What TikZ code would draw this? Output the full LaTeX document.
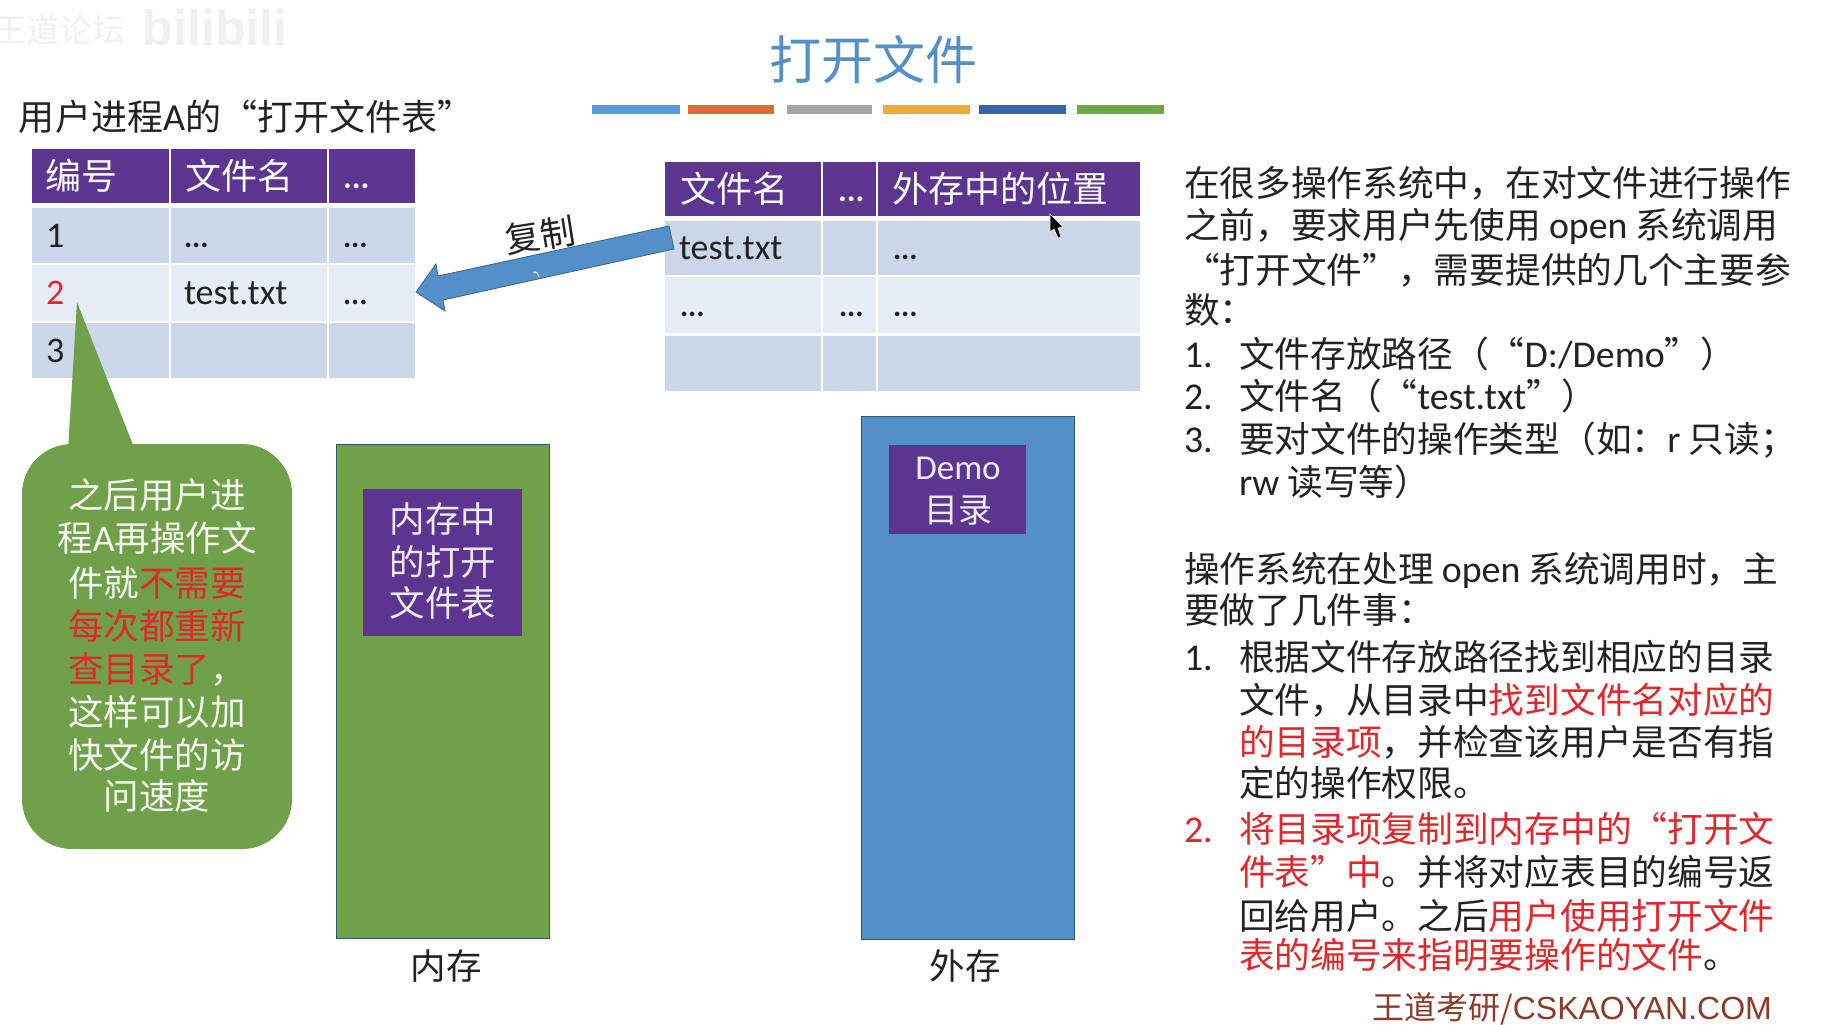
\documentclass[tikz,border=0pt]{standalone}
\usepackage{fontspec}
\setmainfont{Noto Sans CJK SC}
\newfontfamily\lat[Scale=1.06]{Carlito}
\newfontfamily\hei{Liberation Sans}
\definecolor{hdr}{HTML}{5B3590}
\definecolor{banda}{HTML}{CBD7E8}
\definecolor{bandb}{HTML}{E6ECF5}
\definecolor{gr}{HTML}{70A04A}
\definecolor{bl}{HTML}{5490C8}
\definecolor{rd}{HTML}{E0282C}
\definecolor{ink}{HTML}{222222}
\definecolor{foot}{HTML}{8B3A2A}
\tikzset{
  x=1pt,y=-1pt,
  txt/.style={inner sep=0pt,outer sep=0pt,text=ink,font=\fontsize{35.7}{42}\selectfont,anchor=base west},
  ctr/.style={inner sep=0pt,outer sep=0pt,anchor=base,font=\fontsize{35.5}{42}\selectfont},
  th/.style={inner sep=0pt,outer sep=0pt,text=white,font=\fontsize{36}{40}\selectfont,anchor=base west},
  td/.style={inner sep=0pt,outer sep=0pt,text=ink,font=\fontsize{33}{40}\selectfont,anchor=base west},
  dots/.style={td,font=\lat\bfseries\fontsize{29}{40}\selectfont},
  val/.style={td,font=\lat\fontsize{34}{40}\selectfont},
}
\newcommand\tcell[5]{\fill[#5] (#1,#2) rectangle (#3,#4);}
\newcommand\rline[4]{\node[txt] (#1) at (#2,#3+13) {#4};}
\newcommand\rd[1]{\textcolor{rd}{#1}}
\begin{document}
\begin{tikzpicture}
\useasboundingbox (0,0) rectangle (1836,1025);
\fill[white] (0,0) rectangle (1836,1025);
% watermark
\node[inner sep=0pt,text=black!6,font=\fontsize{33}{36}\selectfont,anchor=center] (wm1) at (60,30) {王道论坛};
\node[inner sep=0pt,text=black!6,font=\hei\bfseries\fontsize{50}{54}\selectfont,anchor=center] (wm2) at (215,28) {bilibili};
% title
\node[inner sep=0pt,text=bl,font=\fontsize{52}{56}\selectfont,anchor=center] (title) at (873,60) {打开文件};
\foreach \n/\a/\b/\c in {1/592/680/5B9BD5,2/688/774/DB6B38,3/787/872/A5A5A5,4/883/970/EBAE3C,5/979/1066/3C62AB,6/1077/1164/70A848}{
  \definecolor{tmpc}{HTML}{\c}
  \fill[tmpc] (\a,105) rectangle (\b,114);
}
\node[txt,font=\fontsize{36}{40}\selectfont] (sub) at (19,130) {用户进程{\lat A}的“打开文件表”};
% left table
\tcell{32}{149}{169}{203}{hdr}\tcell{171}{149}{327}{203}{hdr}\tcell{329}{149}{415}{203}{hdr}
\tcell{32}{208}{169}{263}{banda}\tcell{171}{208}{327}{263}{banda}\tcell{329}{208}{415}{263}{banda}
\tcell{32}{265}{169}{321}{bandb}\tcell{171}{265}{327}{321}{bandb}\tcell{329}{265}{415}{321}{bandb}
\tcell{32}{323}{169}{378}{banda}\tcell{171}{323}{327}{378}{banda}\tcell{329}{323}{415}{378}{banda}
\node[th] (l1) at (45,189) {编号};
\node[th] (l2) at (185,189) {文件名};
\node[th,font=\lat\bfseries\fontsize{31}{40}\selectfont] (l3) at (343,188) {...};
\node[val] (a1) at (46,247) {1};
\node[dots] (a2) at (184,247) {...};
\node[dots] (a3) at (343,247) {...};
\node[val,text=rd] (b1) at (46,304) {2};
\node[val] (b2) at (184,304) {test.txt};
\node[dots] (b3) at (343,304) {...};
\node[val] (c1) at (46,362) {3};
% right table
\tcell{665}{162}{821}{216}{hdr}\tcell{823}{162}{876}{216}{hdr}\tcell{878}{162}{1140}{216}{hdr}
\tcell{665}{221}{821}{275}{banda}\tcell{823}{221}{876}{275}{banda}\tcell{878}{221}{1140}{275}{banda}
\tcell{665}{277}{821}{333}{bandb}\tcell{823}{277}{876}{333}{bandb}\tcell{878}{277}{1140}{333}{bandb}
\tcell{665}{336}{821}{391}{banda}\tcell{823}{336}{876}{391}{banda}\tcell{878}{336}{1140}{391}{banda}
\node[th] (r1) at (680,202) {文件名};
\node[th,font=\lat\bfseries\fontsize{31}{40}\selectfont] (r2) at (838,201) {...};
\node[th] (r3) at (892,202) {外存中的位置};
\node[val] (d1) at (679,259) {test.txt};
\node[dots] (d3) at (893,259) {...};
\node[dots] (e1) at (680,316) {...};
\node[dots] (e2) at (839,316) {...};
\node[dots] (e3) at (893,316) {...};
% copy arrow
\coordinate (tailtop) at (669,226);
\coordinate (tailbot) at (674,249);
\coordinate (tip) at (416,292);
\filldraw[fill=bl,draw=bl!70!black,line width=.8pt] (tailtop) -- (438,276) -- (436,264) -- (tip) -- (445,311) -- (443,300) -- (tailbot) -- cycle;
\draw[white,line width=1pt] (533,272) .. controls (537,272) .. (539,277);
\node[inner sep=0pt,text=ink,font=\fontsize{35}{38}\selectfont,rotate=9,anchor=center] (copy) at (540,235) {复制};
% callout
\fill[gr] (68,450) -- (77,302) -- (135,450) -- cycle;
\fill[gr,rounded corners=50pt] (22,444) rectangle (292,849);
\foreach \nm/\y/\t in {
 ca/508/之后用户进,
 cb/551/程{\lat A}再操作文,
 cc/596/件就\textcolor{rd}{不需要},
 cd/639/\textcolor{rd}{每次都重新},
 ce/682/\textcolor{rd}{查目录了}，,
 cf/725/这样可以加,
 cg/768/快文件的访,
 ch/809/问速度}{
  \node[ctr,text=white!92!gr] (\nm) at (157,\y) {\t};
}
% memory
\filldraw[fill=gr,draw=bl!60!black,line width=1pt] (336,444) rectangle (549,938);
\fill[hdr] (363,489) rectangle (522,636);
\node[ctr,text=white!90!hdr] (m1) at (443,532) {内存中};
\node[ctr,text=white!90!hdr] (m2) at (443,575) {的打开};
\node[ctr,text=white!90!hdr] (m3) at (443,616) {文件表};
\node[ctr,text=ink] (ml) at (446,979) {内存};
% disk
\filldraw[fill=bl,draw=bl!60!black,line width=1pt] (861,416) rectangle (1074,939);
\fill[hdr] (889,445) rectangle (1026,534);
\node[ctr,text=white!90!hdr,font=\lat\fontsize{33}{40}\selectfont] (dm) at (958,479) {Demo};
\node[ctr,text=white!90!hdr,font=\fontsize{34}{40}\selectfont] (dn) at (958,522) {目录};
\node[ctr,text=ink] (dl) at (965,979) {外存};
% cursor
\filldraw[fill=black,draw=white,line width=.6pt] (1050,214) -- (1050,232) -- (1054,229) -- (1058,238) -- (1061,237) -- (1058,228) -- (1063,227) -- cycle;
% right text
\rline{t1}{1184}{183}{在很多操作系统中，在对文件进行操作}
\rline{t2}{1184}{225}{之前，要求用户先使用 {\lat open} 系统调用}
\rline{t3}{1184}{270}{“打开文件”，需要提供的几个主要参}
\rline{t4}{1184}{310}{数：}
\rline{n1}{1184}{354}{\lat 1.}
\rline{t5}{1239}{354}{文件存放路径（“{\lat D:/Demo}”）}
\rline{n2}{1184}{396}{\lat 2.}
\rline{t6}{1239}{396}{文件名（“{\lat test.txt}”）}
\rline{n3}{1184}{439}{\lat 3.}
\rline{t7}{1239}{439}{要对文件的操作类型（如：{\lat r} 只读；}
\rline{t8}{1239}{482}{{\lat rw} 读写等）}
\rline{t9}{1184}{569}{操作系统在处理 {\lat open} 系统调用时，主}
\rline{t10}{1184}{610}{要做了几件事：}
\rline{n4}{1184}{657}{\lat 1.}
\rline{t11}{1239}{657}{根据文件存放路径找到相应的目录}
\rline{t12}{1239}{700}{文件，从目录中\rd{找到文件名对应的}}
\rline{t13}{1239}{742}{\rd{的目录项}，并检查该用户是否有指}
\rline{t14}{1239}{783}{定的操作权限。}
\rline{n5}{1184}{829}{\rd{\lat 2.}}
\rline{t15}{1239}{829}{\rd{将目录项复制到内存中的“打开文}}
\rline{t16}{1239}{872}{\rd{件表”中}。并将对应表目的编号返}
\rline{t17}{1239}{916}{回给用户。之后\rd{用户使用打开文件}}
\rline{t18}{1239}{955}{\rd{表的编号来指明要操作的文件}。}
\node[inner sep=0pt,anchor=base east,text=foot,font=\fontsize{32}{36}\selectfont] (foot) at (1772,1019) {王道考研/{\hei CSKAOYAN.COM}};
\end{tikzpicture}
\end{document}
